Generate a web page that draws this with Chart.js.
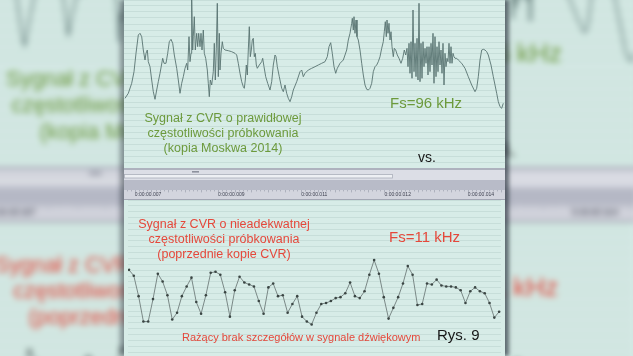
<!DOCTYPE html>
<html><head><meta charset="utf-8">
<script src="https://cdn.jsdelivr.net/npm/chart.js@4.4.1/dist/chart.umd.min.js"></script>
<style>
html,body{margin:0;padding:0;width:633px;height:356px;overflow:hidden;background:#cfe5df;font-family:"Liberation Sans",Arial,sans-serif;}
.wrap{position:absolute;left:0;top:0;width:633px;height:356px;}
#bgOuter{filter:blur(3px) brightness(0.985);}
#bgInner{transform-origin:329px 170px;transform:scale(1.75);}
.panel{position:absolute;left:124px;top:0;width:381px;height:356px;background:#d7ece7;}
#front .panel{box-shadow:4px 0 4px rgba(35,45,55,0.65),-4px 0 5px rgba(35,45,55,0.45);}
.panel canvas{position:absolute;left:0;}
.txt{position:absolute;white-space:nowrap;z-index:2;}
</style></head>
<body>
<div class="wrap" id="bgOuter"><div class="wrap" id="bgInner"></div></div>
<div class="wrap" id="front"></div>
<script>
// ---- data ----
// upper trace (Fs=96 kHz): time position along the panel and amplitude
const topT = [1,4.3,7.7,10,12,14.3,16,17.7,19.3,21,22,23.3,24.3,26,27.7,29.3,31,32.7,34.3,36,38.7,40,42,43.7,45.3,47,48.7,50.3,52.7,54.3,56,57.7,59.3,61,62.7,63.7,65,66,67,67.7,68.7,69.3,70.3,71.3,72.7,73.7,74.7,76,77,78,79.3,80.3,81.7,83.3,84.3,85.3,86.3,87.7,89.3,90.3,91.3,92.3,93.3,94.3,95.3,96,97,98.3,99.3,101,104.3,107.7,111,112.7,114.3,116,117.7,119.3,120.3,121.3,122.3,123.3,124.3,125.3,126.3,127.3,128.3,129.3,130.3,131.3,132.3,133.3,135.3,137.7,138.7,140,141.7,143.7,146,147.7,149.3,151,152,153.3,155.3,157.7,159.3,161,162.7,164.3,166,167.7,169.3,172.7,176,177.7,179.3,181,184.3,187.7,191,194.3,197.7,201,203.3,205,206.7,208.3,210,211.7,213.3,216,219.3,222.7,224.3,226,227.7,228.3,229.3,230,231,232,233,234.3,236,237.7,239.3,241,242.7,244.3,246,247.7,249.3,251,252.7,254.3,256,257.7,259.3,260.3,261.3,262.3,263,264,265,266,267,268,269.3,270.3,271.7,273.3,275,277,278.7,280.3,281.7,283,284,285,286,287,288,289,290,291,292,293,294,295,296,297,298,299,300,301,302,303,304,305,306,307,308,309,310,311,312,313,314,315,316,317,318,319,320,321,322,323,324,325,326,327,328,329,330,331,332.7,334.3,337.7,341,344.3,347.7,351,352.7,354.3,356,357.7,359.3,361,362.7,364.3,367,369.3,371,372.7,374.3,376,377.7,379.3];
const topV = [-35.3,-30.3,-20.3,-8.7,9.7,28,29.7,26.3,13,3,9.7,13,1.3,-3.7,-17,-28.7,-36.3,-27,-18.7,-10.3,4.7,-0.3,-0.3,9.7,21.3,23.7,19.7,8,-5.3,-17,-30.3,-20.3,-13.7,-5.3,-0.3,-7,26.3,1.3,9.7,63,13,26.3,46.3,13,29.7,16.3,29.7,16.3,29.7,13,33,9.7,4.7,-7,-20.3,-33.7,-17,-22,-8.7,19.7,-17,14.7,59.7,-13.7,29.7,-7,9.7,21.3,14.7,13,12.3,11.3,9.7,8,-0.3,-10.3,-18.7,-23.7,-25.3,-17,-2,-12,13,36.3,6.3,13,23,24.7,6.3,9.7,-2,-5.3,-2,1.3,4.7,-3.7,-13.7,-20.3,-27,-18.7,-2,8,6.3,-3.7,-13.7,-25.3,-28.7,-22,-30.3,-35.3,-38.7,-33.7,-27,-18.7,-8.7,-7,-13.7,-10.3,-7,-5.3,-3.7,-2,-0.3,1.3,6.3,16.3,20.3,9.7,-3.7,-10.3,-5.3,-0.3,3,13,23,29.7,39.7,44.7,33,46.3,29.7,43,26.3,23,13,-0.3,-12,-22,-26.3,-27,-25.3,-20.3,-8.7,-3.7,-2,1.3,6.3,14.7,21.3,31.3,41.3,26.3,43,29.7,39.7,23,31.3,16.3,6.3,14.7,13,8,4.7,-0.3,4.7,13,8,14.7,-3.7,19.7,-10.3,21.3,-15.3,53,-8.7,19.7,-13.7,24.7,-17,59.7,-18.7,19.7,-15.3,21.3,-3.7,14.7,-0.3,16.3,-12,16.3,-8.7,19.7,-2,29.7,-20.3,26.3,-13.7,16.3,-8.7,21.3,-2,13,-10.3,19.7,-22,9.7,-3.7,4.7,1.3,19.7,-0.3,16.3,-0.3,9.7,6.3,4.7,4.7,3,-0.3,-5.3,-13.7,-22,-28.7,-25.3,-13.7,3,13,13.7,13,11.3,8,-2,-13.7,-22,-30.3,-38.7,-43.7,-45.3,-40.3];
// lower trace (Fs=11 kHz): one value per sample
const lowV = [27,21,0,-26,-26,-3,23,15,1,-24,-17,0,10,19,-6,-18,1,24,25,22,4,-21,6,20,14,12,10,-5,-18,9,13,0,1,-17,-8,0,-21,-26,-29,-17,-8,-7,-5,-2,-1,3,14,0,-2,5,22,37,23,-1,-23,-12,-1,13,31,22,-9,-8,13,12,17,11,10,10,9,6,-7,5,9,5,3,-7,-22,-16];
const lowIdx = lowV.map((_, i) => i);
// time ruler
const rulerTicks = [7, 8.75, 10.5, 12.25, 14];
const rulerLabels = ['0:00:00.007','0:00:00.009','0:00:00.011','0:00:00.012','0:00:00.014'];
// texts
const topCaption = ['Sygnał z CVR o prawidłowej','częstotliwości próbkowania','(kopia Moskwa 2014)'];
const topRate = 'Fs=96 kHz';
const vsText = 'vs.';
const lowCaption = ['Sygnał z CVR o nieadekwatnej','częstotliwości próbkowania','(poprzednie kopie CVR)'];
const lowRate = 'Fs=11 kHz';
const note = 'Rażący brak szczegółów w sygnale dźwiękowym';
const figLabel = 'Rys. 9';

const W = 381;
const GREEN = '#6c9a3c', RED = '#e5483b', BLACK = '#161616';

function gridColor(ctx){
  return ctx.tick && Math.abs(ctx.tick.value) < 1e-6 ? 'rgba(95,115,110,0.55)' : 'rgba(120,150,145,0.16)';
}

function addText(panel, lines, left, top, size, color, lh, width){
  const d = document.createElement('div');
  d.className = 'txt';
  d.style.left = left + 'px'; d.style.top = top + 'px';
  d.style.fontSize = size + 'px'; d.style.color = color;
  d.style.lineHeight = lh + 'px';
  if (width) { d.style.width = width + 'px'; d.style.textAlign = 'center'; }
  d.innerHTML = lines.map(s => '<div>' + s + '</div>').join('');
  panel.appendChild(d);
}

const rulerBands = {
  id: 'rulerBands',
  beforeDraw(chart){
    const c = chart.ctx, w = chart.width;
    c.save();
    c.fillStyle = '#aeb2be'; c.fillRect(0, 0, w, 2);
    c.fillStyle = '#dcdee6'; c.fillRect(0, 2, w, 10);
    c.fillStyle = '#eef0f4'; c.fillRect(0, 6, 269, 4);
    c.strokeStyle = '#a9adb9'; c.lineWidth = 0.8; c.strokeRect(0.5, 6.5, 268, 3.5);
    c.fillStyle = '#8d919d'; c.fillRect(68, 3, 7, 1.6);
    c.fillStyle = '#b8bbc8'; c.fillRect(0, 12, w, 10);
    c.fillStyle = '#d3d5de'; c.fillRect(0, 22, w, 9);
    c.fillStyle = '#a3a7b4'; c.fillRect(0, 31, w, 1);
    const sc = chart.scales.ruler;
    c.fillStyle = '#a4a8b4';
    for (let k = -2; k < 180; k++) {
      const x = sc.getPixelForValue(7 + k * 0.0875);
      if (x < 0 || x > w) continue;
      c.fillRect(Math.round(x), 22, 0.8, k % 4 === 0 ? 2.4 : 1.4);
    }
    c.restore();
  }
};

function build(host){
  const panel = document.createElement('div');
  panel.className = 'panel';
  host.appendChild(panel);
  const c1 = document.createElement('canvas');
  c1.width = W; c1.height = 168; c1.style.top = '0px';
  c1.style.width = W + 'px'; c1.style.height = '168px';
  const c2 = document.createElement('canvas');
  c2.width = W; c2.height = 188; c2.style.top = '168px';
  c2.style.width = W + 'px'; c2.style.height = '188px';
  panel.appendChild(c1); panel.appendChild(c2);

  addText(panel, topCaption, 3, 110.5, 12.5, GREEN, 15, 192);
  addText(panel, [topRate], 266, 94, 15, GREEN, 18);
  addText(panel, [vsText], 294, 148, 14, BLACK, 18);
  addText(panel, lowCaption, 4, 216.5, 12.5, RED, 15, 192);
  addText(panel, [lowRate], 265, 228, 15, RED, 18);
  addText(panel, [note], 58, 330.5, 11, RED, 13);
  addText(panel, [figLabel], 313, 326, 15, BLACK, 18);

  new Chart(c1, {
    type: 'line',
    data: { datasets: [{
      data: topT.map((t, i) => ({x: t, y: topV[i]})),
      borderColor: '#587370', borderWidth: 0.9, pointRadius: 0, tension: 0, fill: false
    }]},
    options: {
      responsive: false, animation: false, devicePixelRatio: 1,
      layout: { padding: 0 },
      plugins: { legend: {display: false}, tooltip: {enabled: false} },
      scales: {
        x: { type: 'linear', min: 0, max: W, display: false },
        y: { type: 'linear', min: -105, max: 63, display: true,
             ticks: { display: false, stepSize: 6 },
             grid: { color: gridColor, drawTicks: false, lineWidth: 1 },
             border: { display: false },
             afterFit: s => { s.width = 0; } }
      }
    }
  });

  new Chart(c2, {
    type: 'line',
    data: { datasets: [{
      data: lowIdx.map(i => ({x: i, y: lowV[i]})),
      xAxisID: 'x', yAxisID: 'y',
      borderColor: '#7a8886', borderWidth: 1, tension: 0, fill: false,
      pointRadius: 1.3, pointBackgroundColor: '#3a4543', pointBorderWidth: 0
    }]},
    options: {
      responsive: false, animation: false, devicePixelRatio: 1,
      layout: { padding: { top: 22, left: 0, right: 0, bottom: 0 } },
      plugins: { legend: {display: false}, tooltip: {enabled: false} },
      scales: {
        x: { type: 'linear', min: -0.204, max: 77.39, display: false },
        ruler: { type: 'linear', axis: 'x', position: 'top', min: 6.856, max: 14.7,
             afterBuildTicks: s => { s.ticks = rulerTicks.map(v => ({value: v})); },
             afterFit: s => { s.height = 10; },
             ticks: { align: 'start', padding: 2, autoSkip: false, maxRotation: 0, minRotation: 0,
                      font: { size: 5, family: '"Liberation Sans", Arial' }, color: '#3f4250',
                      callback: (v, i) => rulerLabels[i] },
             grid: { display: false, drawTicks: false },
             border: { display: false } },
        y: { type: 'linear', min: -57.3, max: 98.7, display: true,
             ticks: { display: false, stepSize: 6 },
             grid: { color: gridColor, drawTicks: false, lineWidth: 1 },
             border: { display: false },
             afterFit: s => { s.width = 0; } }
      }
    },
    plugins: [rulerBands]
  });
}

build(document.getElementById('bgInner'));
build(document.getElementById('front'));
</script>
</body></html>
